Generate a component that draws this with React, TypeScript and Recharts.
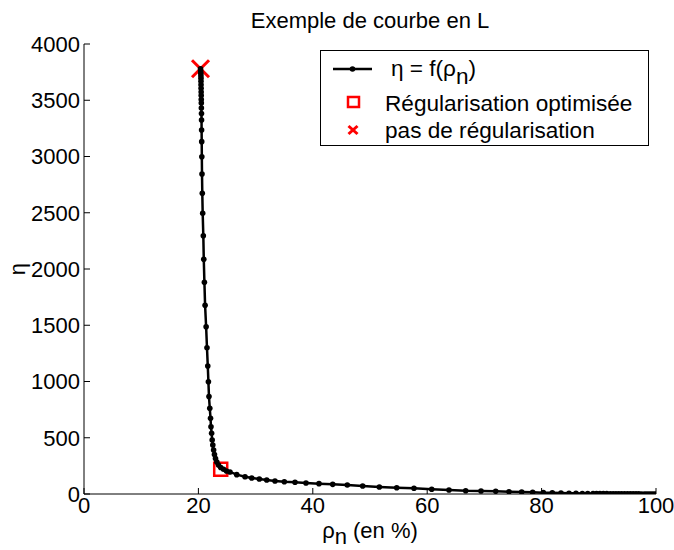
import React from 'react';
import { ComposedChart, Line, Scatter, XAxis, YAxis, Legend } from 'recharts';

// L-curve: rho_n (%) and eta
const rhoValues = [
  20.37, 20.40, 20.42, 20.44, 20.45, 20.45, 20.46, 20.47, 20.48, 20.49, 20.50, 20.51, 20.52, 20.54, 20.55,
  20.56, 20.58, 20.60, 20.63, 20.68, 20.75, 20.86, 20.94, 21.05, 21.17, 21.35, 21.50, 21.64, 21.75, 21.85,
  21.99, 22.12, 22.20, 22.31, 22.41, 22.52, 22.66, 22.81, 22.99, 23.22, 23.51, 23.90, 24.39, 24.91, 25.52,
  26.70, 28.15, 29.32, 30.65, 31.94, 33.39, 35.02, 36.89, 38.81, 41.08, 43.48, 46.03, 48.72, 51.63, 54.67,
  57.69, 60.79, 63.81, 66.73, 69.41, 71.98, 74.30, 76.52, 78.44, 80.30, 81.87, 83.39, 84.79, 86.01, 87.12,
  88.06, 89.0, 89.6, 90.2, 90.8, 91.4, 92.0, 92.5, 93.0, 93.5, 94.0, 94.5, 95.0, 95.5, 96.0,
  96.5, 97.0, 97.5, 98.0, 98.4, 98.8, 99.2, 99.6, 100.0,
];
const etaValues = [
  3780, 3760, 3740, 3718, 3695, 3668, 3638, 3606, 3574, 3542, 3507, 3476, 3431, 3382, 3324,
  3236, 3132, 2998, 2844, 2673, 2495, 2296, 2086, 1882, 1677, 1487, 1300, 1138, 998, 866,
  762, 673, 598, 540, 480, 436, 391, 351, 316, 284, 258, 236, 220, 204, 196,
  172, 154, 142, 133, 124, 116, 109, 104, 98, 92, 86, 80, 71, 62, 56,
  51, 42, 36, 29, 27, 24, 20, 18, 15, 12, 11, 9, 7, 6, 5,
  4.4, 4.0, 3.7, 3.4, 3.1, 2.9, 2.6, 2.4, 2.2, 2.0, 1.8, 1.6, 1.4, 1.2, 1.0,
  0.9, 0.8, 0.6, 0.5, 0.4, 0.3, 0.2, 0.1, 0,
];

const optimRho = [23.9];
const optimEta = [220];
const noRegRho = [20.37];
const noRegEta = [3780];

const xTicks = [0, 20, 40, 60, 80, 100];
const yTicks = [0, 500, 1000, 1500, 2000, 2500, 3000, 3500, 4000];

const curveData = rhoValues.map((r, i) => ({ x: r, y: etaValues[i] }));
const optimData = optimRho.map((r, i) => ({ x: r, y: optimEta[i] }));
const noRegData = noRegRho.map((r, i) => ({ x: r, y: noRegEta[i] }));

const FONT = '"Liberation Sans", Arial, Helvetica, sans-serif';
const FS = 22;
const LFS = 22.6;
const RED = '#ff0000';

const SquareShape = (props: any) => {
  const { cx, cy } = props;
  if (cx == null || cy == null) return null;
  const s = 13;
  return <rect x={cx - s / 2} y={cy - s / 2} width={s} height={s} fill="none" stroke={RED} strokeWidth={2.5} />;
};

const CrossShape = (props: any) => {
  const { cx, cy } = props;
  if (cx == null || cy == null) return null;
  const h = 8.5;
  return (
    <g stroke={RED} strokeWidth={3} strokeLinecap="butt">
      <line x1={cx - h} y1={cy - h} x2={cx + h} y2={cy + h} />
      <line x1={cx - h} y1={cy + h} x2={cx + h} y2={cy - h} />
    </g>
  );
};

const LegendBox = () => (
  <svg width={329} height={96} style={{ display: 'block', fontFamily: FONT }}>
    <rect x={0.5} y={0.5} width={328} height={95} fill="#fff" stroke="#000" strokeWidth={1} />
    <line x1={13} y1={19} x2={52} y2={19} stroke="#000" strokeWidth={2.5} />
    <circle cx={32.5} cy={19} r={2.8} fill="#000" />
    <text x={71} y={26} fontSize={LFS} fill="#000">
      η = f(ρ<tspan dy={8}>n</tspan><tspan dy={-8}>)</tspan>
    </text>
    <rect x={28} y={47} width={11} height={10} fill="none" stroke={RED} strokeWidth={2.5} />
    <text x={65} y={61} fontSize={LFS} fill="#000">Régularisation optimisée</text>
    <g stroke={RED} strokeWidth={3}>
      <line x1={28.5} y1={76} x2={37.5} y2={84} />
      <line x1={28.5} y1={84} x2={37.5} y2={76} />
    </g>
    <text x={65} y={88} fontSize={LFS} fill="#000">pas de régularisation</text>
  </svg>
);

const XLabel = (props: any) => {
  const vb = props.viewBox || {};
  const cx = vb.x + vb.width / 2;
  return (
    <text x={cx} y={vb.y + 44} textAnchor="middle" fontSize={FS} fontFamily={FONT} fill="#000">
      ρ<tspan dy={6}>n</tspan><tspan dy={-6}> (en %)</tspan>
    </text>
  );
};

const YLabel = (props: any) => {
  const vb = props.viewBox || {};
  const cy = vb.y + vb.height / 2;
  const x = 25;
  return (
    <text x={x} y={cy} textAnchor="middle" fontSize={FS} fontFamily={FONT} fill="#000" transform={`rotate(-90, ${x}, ${cy})`}>
      η
    </text>
  );
};

export default function App() {
  const tickStyle = { fontSize: FS, fill: '#000', fontFamily: FONT };
  return (
    <div style={{ position: 'absolute', left: 0, top: 0, width: 674, height: 550, background: '#fff', fontFamily: FONT }}>
      <div style={{ position: 'absolute', left: 84, width: 572, top: 8, textAlign: 'center', fontSize: FS, color: '#000', lineHeight: '26px' }}>
        Exemple de courbe en L
      </div>
      <ComposedChart width={674} height={550} margin={{ top: 44, right: 18, bottom: 26, left: 0 }}>
        <XAxis
          xAxisId="bottom"
          type="number"
          dataKey="x"
          domain={[0, 100]}
          ticks={xTicks}
          allowDataOverflow
          height={30}
          tickSize={-6}
          tickMargin={9}
          tick={tickStyle}
          stroke="#000"
          axisLine={{ stroke: '#000', strokeWidth: 1 }}
          tickLine={{ stroke: '#000' }}
          label={<XLabel />}
        />
        <XAxis
          xAxisId="top"
          orientation="top"
          type="number"
          dataKey="x"
          domain={[0, 100]}
          ticks={xTicks}
          allowDataOverflow
          height={0}
          tickSize={-6}
          tick={false}
          axisLine={{ stroke: '#000', strokeWidth: 1 }}
          tickLine={{ stroke: '#000' }}
        />
        <YAxis
          yAxisId="left"
          type="number"
          dataKey="y"
          domain={[0, 4000]}
          ticks={yTicks}
          allowDataOverflow
          width={84}
          tickSize={-6}
          tickMargin={10}
          tick={tickStyle}
          axisLine={{ stroke: '#000', strokeWidth: 1 }}
          tickLine={{ stroke: '#000' }}
          label={<YLabel />}
        />
        <YAxis
          yAxisId="right"
          orientation="right"
          type="number"
          dataKey="y"
          domain={[0, 4000]}
          ticks={yTicks}
          allowDataOverflow
          width={0}
          tickSize={-6}
          tick={false}
          axisLine={{ stroke: '#000', strokeWidth: 1 }}
          tickLine={{ stroke: '#000' }}
        />
        <Legend
          layout="vertical"
          align="center"
          verticalAlign="middle"
          wrapperStyle={{ left: 320, top: 50, width: 329, height: 96 }}
          content={() => <LegendBox />}
        />
        <Line
          xAxisId="bottom"
          yAxisId="left"
          data={curveData}
          dataKey="y"
          type="linear"
          stroke="#000"
          strokeWidth={2.5}
          dot={{ r: 2.8, fill: '#000', stroke: 'none' }}
          activeDot={false}
          isAnimationActive={false}
          name="η = f(ρn)"
        />
        <Scatter
          xAxisId="bottom"
          yAxisId="left"
          data={optimData}
          dataKey="y"
          shape={<SquareShape />}
          isAnimationActive={false}
          name="Régularisation optimisée"
        />
        <Scatter
          xAxisId="bottom"
          yAxisId="left"
          data={noRegData}
          dataKey="y"
          shape={<CrossShape />}
          isAnimationActive={false}
          name="pas de régularisation"
        />
      </ComposedChart>
    </div>
  );
}
